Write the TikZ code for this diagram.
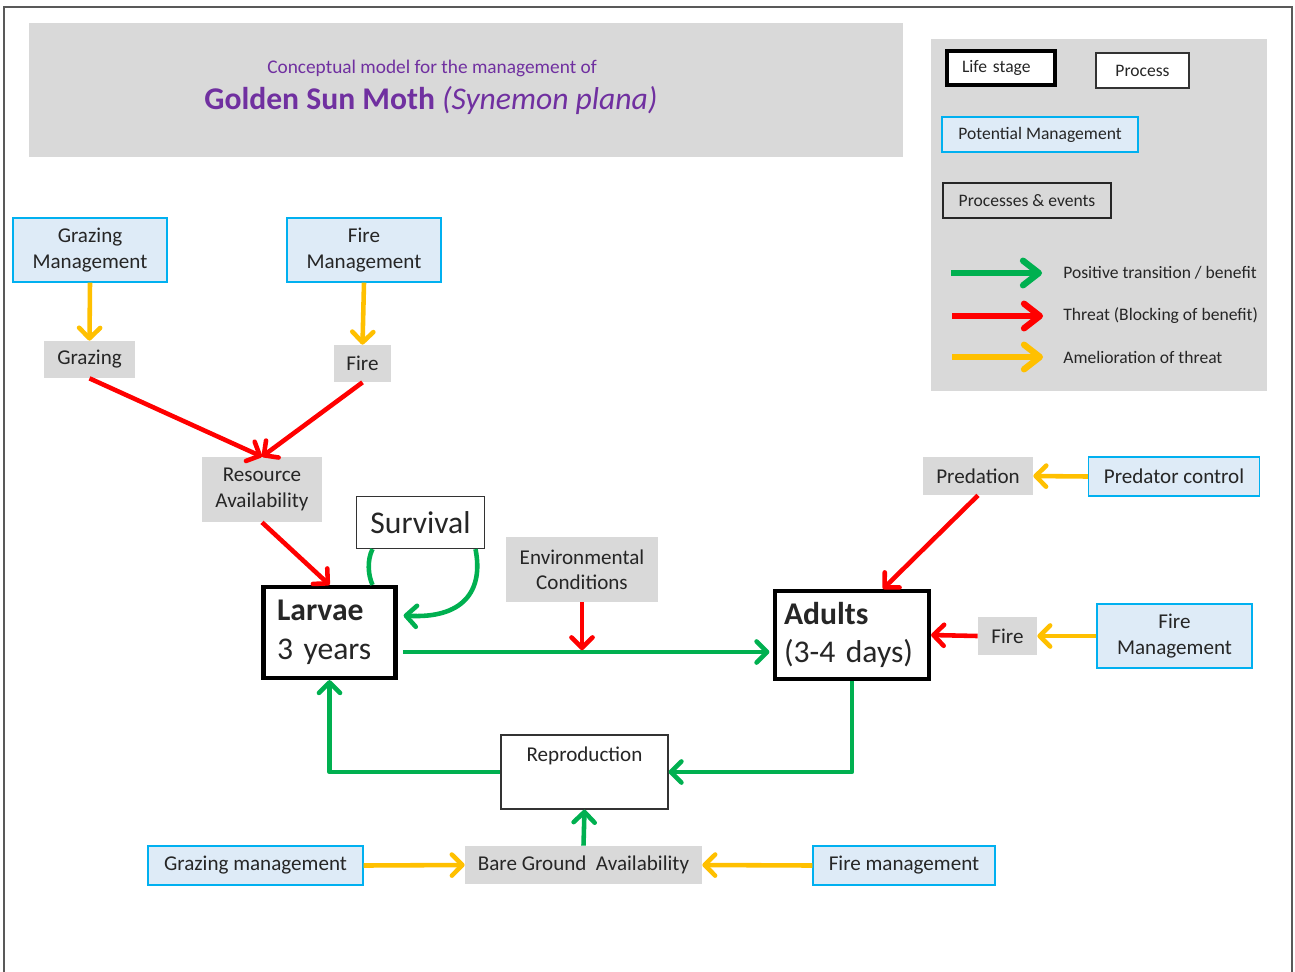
\documentclass[tikz,border=0pt]{standalone}
\usepackage{fontspec}
\setmainfont{Carlito}
\usetikzlibrary{arrows.meta,calc}
\definecolor{ink}{HTML}{262626}
\definecolor{panel}{HTML}{D9D9D9}
\definecolor{mgmtfill}{HTML}{DEEBF7}
\definecolor{mgmtedge}{HTML}{00B0F0}
\definecolor{benefit}{HTML}{00B050}
\definecolor{threat}{HTML}{FF0000}
\definecolor{relief}{HTML}{FFC000}
\definecolor{plum}{HTML}{7030A0}
\definecolor{framegray}{HTML}{595959}
\newcommand\fsz[2]{\fontsize{#1}{#2}\selectfont}

\begin{document}
\begin{tikzpicture}[x=0.02cm,y=-0.02cm,font=\fsz{12}{14.5},text=ink,
  >={Straight Barb[length=6pt,width=12pt,round]},
  every node/.style={inner sep=0pt},
  box/.style 2 args={minimum width=#1,minimum height=#2},
  mgmt/.style={fill=mgmtfill,draw=mgmtedge,line width=0.8pt,align=center},
  event/.style={fill=panel,align=center},
  stage/.style={draw=black,fill=white,line width=2.4pt,align=left,
    font=\fsz{18}{22}},
  proc/.style={draw=black!80,fill=white,line width=0.7pt,align=center},
  keytext/.style={font=\fsz{10}{12}},
  link/.style={line width=2.6pt,line join=round,->},
  gain/.style={link,draw=benefit},
  harm/.style={link,draw=threat},
  ease/.style={link,draw=relief},
  keyarrow/.style={line width=3.6pt,
    -{Straight Barb[length=9pt,width=14pt,round]}}]
  \useasboundingbox (0,0) rectangle (1295,971);
  \draw[framegray,line width=1.2pt] (4,990) -- (4,7) -- (1292,7) -- (1292,990);

  % heading
  \node[fill=panel,box={17.48cm}{2.68cm}] (titlebox) at (466,90) {};
  \node[text=plum,font=\fsz{11}{13}] (subtitle) at (432,68)
    {Conceptual model for the management of};
  \node[text=plum,font=\fsz{18}{22}] (title) at (431,100)
    {\textbf{Golden Sun Moth} \textit{(Synemon plana)}};

  % key
  \node[fill=panel,box={6.72cm}{7.04cm}] (keypanel) at (1099,215) {};
  \node[stage,keytext,box={2.16cm}{0.68cm},line width=2.2pt,
        text width=1.56cm,inner xsep=0.3cm] (keystage) at (1001,68) {Life stage};
  \node[proc,keytext,box={1.86cm}{0.7cm}] (keyproc) at (1142.5,70.5) {Process};
  \node[mgmt,keytext,box={3.92cm}{0.7cm}] (keymgmt) at (1040,134.5)
    {Potential Management};
  \node[draw=ink,line width=0.8pt,keytext,box={3.36cm}{0.7cm}] (keyevent)
    at (1027,200.5) {Processes \& events};
  \node[keytext,anchor=west] (keygain) at (1063,273) {Positive transition / benefit};
  \node[keytext,anchor=west] (keyharm) at (1063,316) {Threat (Blocking of benefit)};
  \node[keytext,anchor=west] (keyease) at (1063,357) {Amelioration of threat};
  \draw[keyarrow,benefit] ($(keygain.west)+(-112,0)$) -- ($(keygain.west)+(-21,0)$);
  \draw[keyarrow,threat] ($(keyharm.west)+(-111,0)$) -- ($(keyharm.west)+(-20,0)$);
  \draw[keyarrow,relief] ($(keyease.west)+(-111,0)$) -- ($(keyease.west)+(-20,0)$);

  % larval stage
  \node[mgmt,box={3.08cm}{1.28cm}] (grzmgmt) at (90,250) {Grazing\\Management};
  \node[mgmt,box={3.08cm}{1.28cm}] (firemgmt) at (364,250) {Fire\\Management};
  \node[event,box={1.82cm}{0.74cm}] (grazing) at (89.5,359.5) {Grazing};
  \node[event,box={1.14cm}{0.74cm}] (fire) at (362.5,363.5) {Fire};
  \node[event,box={2.4cm}{1.3cm}] (resource) at (262,489.5)
    {Resource\\Availability};
  \node[proc,box={2.56cm}{1.04cm},font=\fsz{18}{22}] (surv) at (420.5,522.5)
    {Survival};
  \node[stage,box={2.64cm}{1.82cm},text width=2.1cm,inner xsep=0.27cm]
    (larvae) at (329.5,632.5) {\textbf{Larvae}\\3 years};
  \node[event,box={3.04cm}{1.3cm}] (env) at (582,569.5)
    {Environmental\\Conditions};

  % adult stage
  \node[stage,box={3.08cm}{1.76cm},text width=2.72cm,inner xsep=0.18cm]
    (adults) at (852,635) {\textbf{Adults}\\(3-4 days)};
  \node[event,box={2.2cm}{0.76cm}] (predation) at (978,476) {Predation};
  \node[mgmt,box={3.42cm}{0.78cm}] (predctl) at (1174,476.5) {Predator control};
  \node[event,box={1.18cm}{0.76cm}] (adfire) at (1007.5,636) {Fire};
  \node[mgmt,box={3.1cm}{1.28cm}] (adfiremgmt) at (1174.5,636)
    {Fire\\Management};

  % breeding
  \node[proc,box={3.34cm}{1.48cm},text height=15.3pt,text depth=26.7pt]
    (repro) at (584.5,772) {Reproduction};
  \node[mgmt,box={4.3cm}{0.78cm}] (grzbot) at (255.5,865.5) {Grazing management};
  \node[event,box={4.74cm}{0.76cm}] (bare) at (583.5,865)
    {Bare Ground\ \ Availability};
  \node[mgmt,box={3.64cm}{0.78cm}] (firebot) at (904,865.5) {Fire management};

  \draw[ease] (grzmgmt.south) -- (grazing.north);
  \draw[ease] (firemgmt.south) -- (fire.north);
  \draw[harm] (grazing.south) -- (resource.north);
  \draw[harm] (fire.south) -- (resource.north);
  \draw[harm] (resource.south) -- (larvae.north);

  \draw[gain,-] ($(surv.south)+(-48,0)$)
    .. controls (367,560) and (368,575) .. ($(larvae.north)+(43,0)$);
  \draw[gain] ($(surv.south)+(55,0)$)
    .. controls (484,592) and (462,619) .. ($(larvae.east)+(6,-17)$);

  \coordinate (envhit) at (582,652);
  \draw[gain,shorten <=3pt,shorten >=2pt] (larvae.east |- envhit)
    -- (adults.west |- envhit);
  \draw[harm,shorten >=1pt] (env.south) -- (envhit);

  \draw[harm] (predation.south) -- ($(adults.north)+(31,0)$);
  \draw[ease] (predctl.west) -- (predation.east);
  \draw[harm] (adfire.west) -- (adults.east);
  \draw[ease] (adfiremgmt.west) -- (adfire.east);

  \draw[gain] (adults.south) |- (repro.east);
  \draw[gain] (repro.west) -| (larvae.south);
  \draw[gain] (bare.north) -- (repro.south);
  \draw[ease] (grzbot.east) -- (bare.west);
  \draw[ease] (firebot.west) -- (bare.east);
\end{tikzpicture}
\end{document}
